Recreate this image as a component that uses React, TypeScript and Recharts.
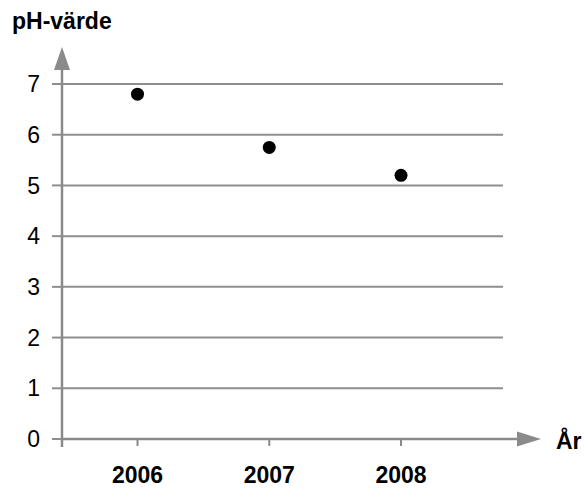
import React from 'react';
import { ScatterChart, Scatter, XAxis, YAxis, CartesianGrid } from 'recharts';

// data
const YEARS = [2006, 2007, 2008];
const PH_VALUES = [6.8, 5.75, 5.2];
const Y_TICKS = [0, 1, 2, 3, 4, 5, 6, 7];

const data = YEARS.map((year, i) => ({ year, ph: PH_VALUES[i] }));

// layout
const W = 585;
const H = 488;
const PLOT_LEFT = 62;
const PLOT_RIGHT = 503;
const PLOT_TOP = 84;
const PLOT_BOTTOM = 439;
const AXIS_GRAY = '#8a8a8a';
const FONT = '"Liberation Sans", Arial, Helvetica, sans-serif';

const Dot = (props: any) => <circle cx={props.cx} cy={props.cy} r={6.5} fill="#000" />;

const App: React.FC = () => {
  return (
    <div style={{ position: 'absolute', left: 0, top: 0, width: W, height: H, background: '#fff', fontFamily: FONT }}>
      <ScatterChart
        width={W}
        height={H}
        margin={{ top: PLOT_TOP, right: W - PLOT_RIGHT, bottom: 0, left: 0 }}
      >
        <CartesianGrid vertical={false} stroke="#8e8e8e" strokeWidth={2} />
        <XAxis
          type="number"
          dataKey="year"
          domain={[2005.427, 2008.774]}
          ticks={YEARS}
          height={H - PLOT_BOTTOM}
          axisLine={{ stroke: AXIS_GRAY, strokeWidth: 2.5 }}
          tickLine={{ stroke: AXIS_GRAY, strokeWidth: 2 }}
          tickSize={7}
          tickMargin={21}
          tick={{ fill: '#000', fontSize: 23, fontWeight: 'bold', fontFamily: FONT }}
        />
        <YAxis
          type="number"
          dataKey="ph"
          domain={[0, 7]}
          ticks={Y_TICKS}
          width={PLOT_LEFT}
          axisLine={{ stroke: AXIS_GRAY, strokeWidth: 2.5 }}
          tickLine={{ stroke: '#8e8e8e', strokeWidth: 2 }}
          tickSize={10}
          tickMargin={12}
          tick={{ fill: '#000', fontSize: 23, fontFamily: FONT }}
        />
        <Scatter data={data} shape={Dot} isAnimationActive={false} />
      </ScatterChart>

      {/* axis arrows and titles */}
      <svg width={W} height={H} style={{ position: 'absolute', left: 0, top: 0, pointerEvents: 'none' }}>
        <line x1={PLOT_RIGHT} y1={PLOT_BOTTOM} x2={520} y2={PLOT_BOTTOM} stroke={AXIS_GRAY} strokeWidth={2.5} />
        <polygon points={`517,${PLOT_BOTTOM - 7.5} 541,${PLOT_BOTTOM} 517,${PLOT_BOTTOM + 7.5}`} fill={AXIS_GRAY} />
        <line x1={PLOT_LEFT} y1={PLOT_TOP} x2={PLOT_LEFT} y2={67} stroke={AXIS_GRAY} strokeWidth={2.5} />
        <polygon points={`${PLOT_LEFT - 8},70 ${PLOT_LEFT},47 ${PLOT_LEFT + 8},70`} fill={AXIS_GRAY} />
        <line x1={PLOT_LEFT} y1={PLOT_BOTTOM} x2={PLOT_LEFT} y2={447} stroke={AXIS_GRAY} strokeWidth={2.5} />
        <text x={12} y={29} fontSize={23} fontWeight="bold" fontFamily={FONT} fill="#000">pH-värde</text>
        <text x={556} y={449} fontSize={23} fontWeight="bold" fontFamily={FONT} fill="#000">År</text>
      </svg>
    </div>
  );
};

export default App;
